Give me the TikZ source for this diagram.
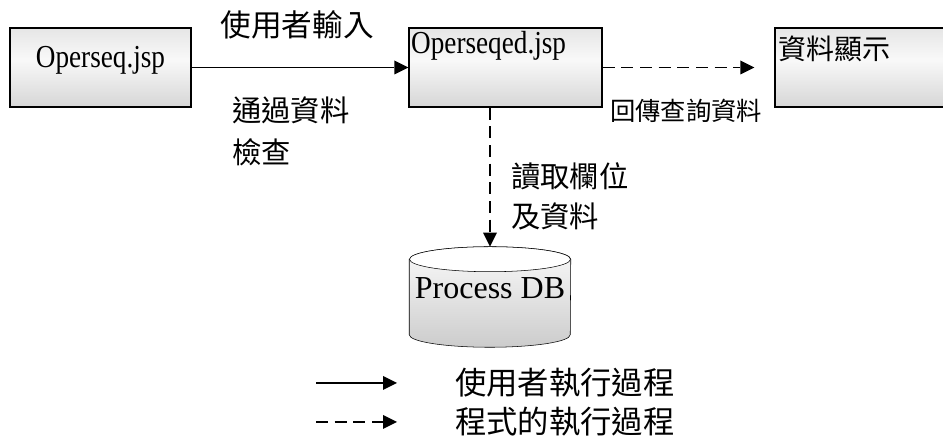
\documentclass[tikz,border=0pt]{standalone}
\usepackage{fontspec}
\setmainfont{Liberation Serif}
\newfontfamily\condfont[FakeStretch=0.85]{Liberation Serif}
\newfontfamily\cjkfont{Noto Sans CJK TC}
\usetikzlibrary{arrows.meta, backgrounds, calc, positioning}

\pgfdeclareverticalshading{pageshade}{100bp}{color(0bp)=(gray!32); color(25bp)=(gray!32); color(55bp)=(gray!5); color(75bp)=(gray!20); color(100bp)=(gray!20)}

\begin{document}
\begin{tikzpicture}[x=0.75pt, y=0.75pt,
  page/.style={draw, line width=1.1pt, shade, shading=pageshade, inner sep=0pt,
    minimum height=59.25pt, text height=0.7em, text depth=0.7em,
    font=\condfont\fontsize{24}{28}\selectfont},
  cjk/.style={inner sep=0pt, align=left, font=\cjkfont\fontsize{22}{31.5}\selectfont},
  user/.style={line width=1.2pt, -{Triangle[length=10.5pt, width=10.5pt, line width=0pt]}},
  prog/.style={user, dash pattern=on 9pt off 5pt}]
  \useasboundingbox (0,0) rectangle (943,438);
  \clip (0,0) rectangle (943,438);
  % pages
  \node[page, minimum width=135.75pt] (operseq) at (100.5,370.5) {Operseq.jsp};
  \node[page, minimum width=144.75pt,
    label={[anchor=north west, inner xsep=2pt, inner ysep=3pt,
      font=\condfont\fontsize{24}{28}\selectfont]north west:Operseqed.jsp}] (operseqed) at (505.5,370.5) {};
  \node[page, minimum width=144.75pt,
    label={[cjk, font=\cjkfont\fontsize{21}{24}\selectfont, anchor=north west,
      inner xsep=3pt, inner ysep=6pt]north west:資料顯示}] (show) at (871.5,370.5) {};
  % database
  \node[font=\fontsize{24}{28}\selectfont, inner sep=0pt, minimum width=120.75pt,
    minimum height=75pt, text height=1em, text depth=0.7em] (db) at (490,141) {Process DB};
  \begin{scope}[on background layer, line width=1.1pt]
    \draw[top color=gray!4, bottom color=gray!40]
      ([yshift=-9.375pt]db.north west) -- ([yshift=9.375pt]db.south west)
      arc[start angle=180, end angle=360, x radius=60.375pt, y radius=9.375pt]
      -- ([yshift=-9.375pt]db.north east)
      arc[start angle=0, end angle=180, x radius=60.375pt, y radius=9.375pt] -- cycle;
    \draw[fill=white] ([yshift=-9.375pt]db.north) ellipse[x radius=60.375pt, y radius=9.375pt];
  \end{scope}
  % flows
  \coordinate (showin) at ($(show.west)+(-20,0)$);
  \draw[user] (operseq) -- (operseqed);
  \draw[prog] (operseqed) -- (showin);
  \draw[prog] (operseqed.south -| db.north) -- (db.north);
  \node[cjk, font=\cjkfont\fontsize{23}{28}\selectfont] (userinput) at (297,413) {使用者輸入};
  \node[cjk, anchor=north west] (checkok) at (232,341) {通過資料\\檢查};
  \node[cjk, font=\cjkfont\fontsize{19}{22}\selectfont] (returnq) at (686,327) {回傳查詢資料};
  \node[cjk, anchor=north west, font=\cjkfont\fontsize{22}{30}\selectfont] (readcol) at (511,276) {讀取欄位\\及資料};
  % legend
  \coordinate (solida) at (316,55);
  \coordinate (solidb) at (397,55);
  \coordinate (dasha) at (316,16);
  \coordinate (dashb) at (397,16);
  \draw[user] (solida) -- (solidb);
  \draw[prog] (dasha) -- (dashb);
  \node[cjk, anchor=west, font=\cjkfont\fontsize{23.5}{28}\selectfont] (usertxt) at (455,55) {使用者執行過程};
  \node[cjk, anchor=west, font=\cjkfont\fontsize{23.5}{28}\selectfont] (progtxt) at (455,16) {程式的執行過程};
\end{tikzpicture}
\end{document}
